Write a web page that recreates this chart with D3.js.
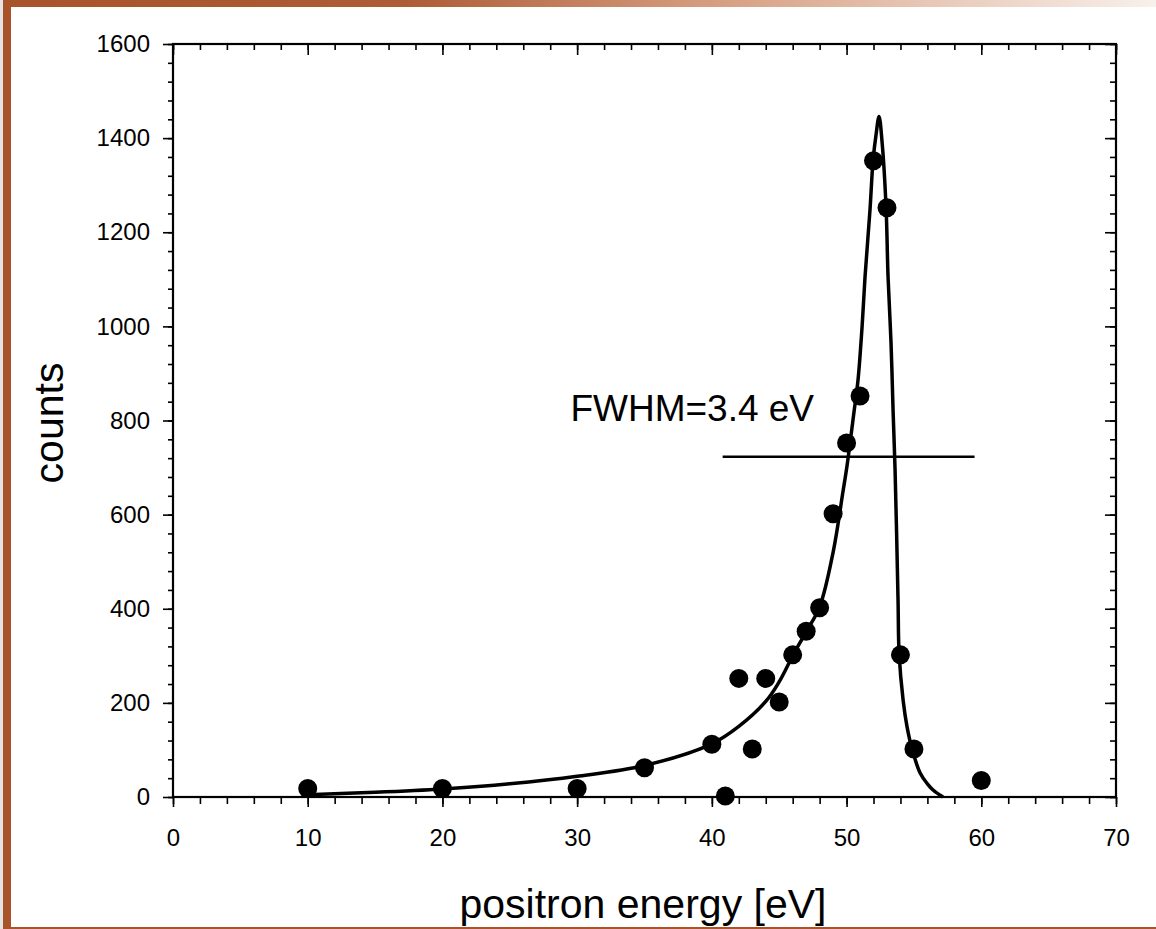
<!DOCTYPE html>
<html>
<head>
<meta charset="utf-8">
<script src="https://cdn.jsdelivr.net/npm/d3@7"></script>
<style>
  body { margin: 0; background: #fff; }
  svg { display: block; }
  text { font-family: "Liberation Sans", Arial, sans-serif; fill: #000; }
</style>
</head>
<body>
<div class="chart-holder"></div>
<script>
// Measured points (positron energy in eV, counts)
const energy = [10, 20, 30, 35, 40, 41, 42, 43, 44, 45, 46, 47, 48, 49, 50, 51, 52, 53, 54, 55, 60];
const counts = [18, 18, 18, 62, 112, 2, 252, 102, 252, 202, 302, 352, 402, 602, 752, 852, 1352, 1252, 302, 102, 35];

// Fitted curve
const fitEnergy = [10, 15, 20, 25, 30, 35, 40, 42, 44, 45, 46, 47, 48, 49, 49.74, 50.04, 50.27, 50.56, 50.85, 51.15, 51.37, 51.74, 51.97, 52.2, 52.41, 52.64, 52.93, 53.08, 53.3, 53.45, 53.6, 53.82, 53.9, 54.2, 54.49, 54.86, 55.46, 56.0, 56.42, 57.16];
const fitCounts = [5, 10, 17, 28, 44, 67, 113, 150, 203, 245, 300, 351, 404, 520, 650, 705, 755, 820, 886, 999, 1105, 1248, 1354, 1410, 1446, 1390, 1254, 1105, 965, 823, 695, 419, 304, 205, 149, 102, 51, 28, 15, 0];

// FWHM marker line
const fwhmEnergy = [40.8, 59.5];
const fwhmCount = 723;
const fwhmText = 'FWHM=3.4 eV';

// Axis ticks
const xTicks = [0, 10, 20, 30, 40, 50, 60, 70];
const yTicks = [0, 200, 400, 600, 800, 1000, 1200, 1400, 1600];
const xMinor = d3.range(0, 70.001, 2);
const yMinor = d3.range(0, 1600.001, 40);

const width = 1156;
const height = 929;
const margin = { top: 44, right: 40, bottom: 132, left: 173 };
const plotW = width - margin.left - margin.right;
const plotH = height - margin.top - margin.bottom;

const svg = d3.select('.chart-holder').append('svg')
  .attr('width', width)
  .attr('height', height);

// Slide frame
const grad = svg.append('defs').append('linearGradient')
  .attr('id', 'topbar')
  .attr('x1', '0%').attr('x2', '100%');
grad.append('stop').attr('offset', '0%').attr('stop-color', '#a9532b');
grad.append('stop').attr('offset', '35%').attr('stop-color', '#ad5c36');
grad.append('stop').attr('offset', '60%').attr('stop-color', '#d49a7c');
grad.append('stop').attr('offset', '82%').attr('stop-color', '#e9cbbb');
grad.append('stop').attr('offset', '100%').attr('stop-color', '#f8f0eb');

svg.append('rect').attr('x', 0).attr('y', 0).attr('width', 3).attr('height', height).attr('fill', '#e4e4e4');
svg.append('rect').attr('x', 3).attr('y', 0).attr('width', width - 3).attr('height', 7).attr('fill', 'url(#topbar)');
svg.append('rect').attr('x', 3).attr('y', 0).attr('width', 8).attr('height', height).attr('fill', '#a9532b');
svg.append('rect').attr('x', 3).attr('y', 927).attr('width', width - 3).attr('height', 2).attr('fill', '#a9532b');

const g = svg.append('g')
  .attr('transform', 'translate(' + margin.left + ',' + margin.top + ')');

const x = d3.scaleLinear().domain([0, 70]).range([0, plotW]);
const y = d3.scaleLinear().domain([0, 1600]).range([plotH, 0]);

// Minor ticks (left/bottom outward, top/right inward)
g.append('g')
  .attr('transform', 'translate(0,' + plotH + ')')
  .call(d3.axisBottom(x).tickValues(xMinor).tickSize(7).tickFormat(''))
  .call(a => a.select('.domain').remove());
g.append('g')
  .call(d3.axisLeft(y).tickValues(yMinor).tickSize(5).tickFormat(''))
  .call(a => a.select('.domain').remove());
g.append('g')
  .call(d3.axisBottom(x).tickValues(xMinor).tickSize(6).tickFormat(''))
  .call(a => a.select('.domain').remove());
g.append('g')
  .attr('transform', 'translate(' + plotW + ',0)')
  .call(d3.axisLeft(y).tickValues(yMinor).tickSize(6).tickFormat(''))
  .call(a => a.select('.domain').remove());

// Major ticks with labels
const xAxis = g.append('g')
  .attr('transform', 'translate(0,' + plotH + ')')
  .call(d3.axisBottom(x).tickValues(xTicks).tickSize(10).tickPadding(22).tickFormat(d3.format('d')));
xAxis.select('.domain').remove();
xAxis.selectAll('text').style('font-size', '24px').attr('font-family', null);

const yAxis = g.append('g')
  .call(d3.axisLeft(y).tickValues(yTicks).tickSize(10).tickPadding(13).tickFormat(d3.format('d')));
yAxis.select('.domain').remove();
yAxis.selectAll('text').style('font-size', '24px').attr('font-family', null);

g.append('g')
  .call(d3.axisBottom(x).tickValues(xTicks).tickSize(11).tickFormat(''))
  .call(a => a.select('.domain').remove());
g.append('g')
  .attr('transform', 'translate(' + plotW + ',0)')
  .call(d3.axisLeft(y).tickValues(yTicks).tickSize(11).tickFormat(''))
  .call(a => a.select('.domain').remove());

g.selectAll('.tick line').attr('stroke', '#000').attr('stroke-width', 1.6);

// Frame
g.append('rect')
  .attr('width', plotW)
  .attr('height', plotH)
  .attr('fill', 'none')
  .attr('stroke', '#000')
  .attr('stroke-width', 2.2);

// Fitted curve
const fitLine = d3.line()
  .x((d, i) => x(fitEnergy[i]))
  .y((d, i) => y(fitCounts[i]))
  .curve(d3.curveCatmullRom.alpha(0.5));

g.append('path')
  .datum(fitEnergy)
  .attr('fill', 'none')
  .attr('stroke', '#000')
  .attr('stroke-width', 3.5)
  .attr('stroke-linejoin', 'round')
  .attr('d', fitLine);

// FWHM line
g.append('line')
  .attr('x1', x(fwhmEnergy[0]))
  .attr('x2', x(fwhmEnergy[1]))
  .attr('y1', y(fwhmCount))
  .attr('y2', y(fwhmCount))
  .attr('stroke', '#000')
  .attr('stroke-width', 2.5);

g.append('text')
  .attr('x', x(29.5))
  .attr('y', y(800))
  .style('font-size', '37px')
  .text(fwhmText);

// Data points
g.selectAll('.dot')
  .data(energy)
  .enter().append('circle')
  .attr('class', 'dot')
  .attr('cx', d => x(d))
  .attr('cy', (d, i) => y(counts[i]))
  .attr('r', 9.5)
  .attr('fill', '#000');

// Axis titles
svg.append('text')
  .attr('x', 643)
  .attr('y', 918)
  .attr('text-anchor', 'middle')
  .style('font-size', '41px')
  .text('positron energy [eV]');

svg.append('text')
  .attr('transform', 'translate(63,423) rotate(-90)')
  .attr('text-anchor', 'middle')
  .style('font-size', '41px')
  .text('counts');
</script>
</body>
</html>
